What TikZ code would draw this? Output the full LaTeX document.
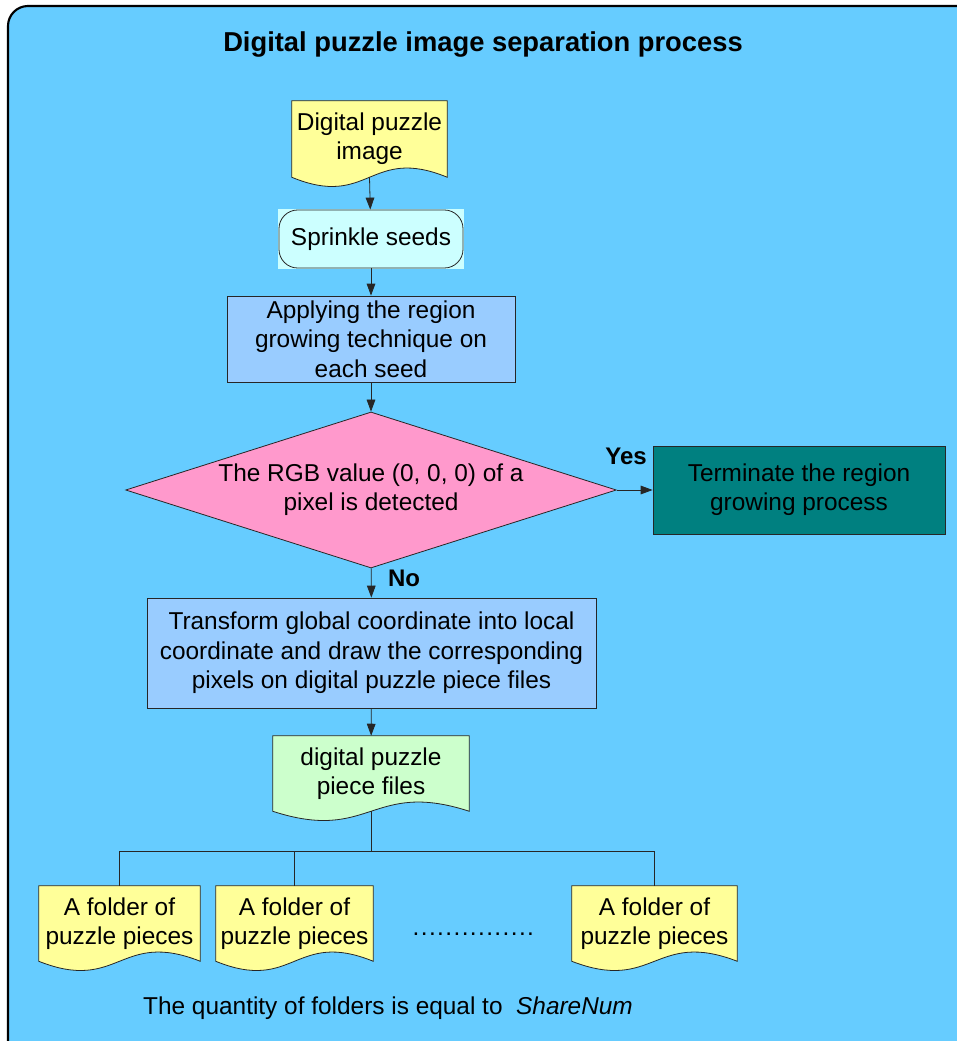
\documentclass[tikz,border=0pt]{standalone}
\usepackage{fontspec}
\setmainfont{Liberation Sans}
\usetikzlibrary{shapes.geometric}
\usetikzlibrary{arrows.meta}
\usetikzlibrary{calc}
\definecolor{panelblue}{HTML}{66CCFF}
\definecolor{docyellow}{HTML}{FFFF99}
\definecolor{seedcyan}{HTML}{CCFFFF}
\definecolor{stepblue}{HTML}{99CCFF}
\definecolor{checkpink}{HTML}{FF99CC}
\definecolor{stopteal}{HTML}{008080}
\definecolor{docgreen}{HTML}{CCFFCC}
\pgfdeclarelayer{panel}
\pgfdeclarelayer{shapes}
\pgfsetlayers{panel,shapes,main}
\tikzset{
every node/.style={ % Sets the font for every text
font=\fontsize{18.3}{22}\selectfont,
align=center},
outline/.style={draw=black!85, line width=0.6pt},
stepbox/.style={ % Plain process boxes
outline, rectangle, inner sep=0pt},
docbox/.style={ % Text area of the document shapes, outline drawn by \wavedoc
rectangle, inner sep=0pt},
every edge/.style={ % Sets the properties for each connector
draw, black!85, line width=0.6pt,
-{Triangle[length=9pt,width=6.5pt]}},
bus/.style={draw, black!85, line width=0.6pt},
lbl/.style={font=\fontsize{18}{20}\selectfont\bfseries}}
% document shape with a wavy bottom edge behind node #1
\newcommand{\wavedoc}[2]{%
\begin{pgfonlayer}{shapes}
\draw[outline, fill=#2] (#1.south west) -- (#1.north west) -- (#1.north east) -- (#1.south east)
  .. controls ($(#1.south)+(0,-32)$) and ($(#1.south)+(0,32)$) .. (#1.south west) -- cycle;
\end{pgfonlayer}}
\newcommand{\dotrow}{\foreach \d in {1,...,15}{.\kern1.05pt}}

\begin{document}
\begin{tikzpicture}[x=0.75pt, y=-0.75pt]
\useasboundingbox (0,0) rectangle (956,1041);
\begin{pgfonlayer}{panel}
\draw[fill=panelblue, line width=1.6pt, rounded corners=15pt] (8,6) rectangle (985,1070);
\end{pgfonlayer}
\node[font=\fontsize{20.5}{24}\selectfont\bfseries] (title) at (483,44) {Digital puzzle image separation process};

\node[docbox, minimum width=116.25pt, minimum height=57pt] (img) at (369.5,139) {Digital puzzle\\image};
\wavedoc{img}{docyellow}
\node[outline, rounded corners=14pt, minimum width=138pt, minimum height=43.5pt, inner sep=0pt] (seeds) at (371,239) {Sprinkle seeds};
\begin{pgfonlayer}{shapes}
\fill[seedcyan] ($(seeds.south west)+(-1,1)$) rectangle ($(seeds.north east)+(1,-1)$);
\end{pgfonlayer}
\node[stepbox, fill=stepblue, minimum width=216pt, minimum height=64.5pt] (grow) at (371,339) {Applying the region\\growing technique on\\each seed};
\node[outline, diamond, fill=checkpink, shape aspect=3.15, inner sep=0pt, minimum width=368pt, minimum height=117pt] (check) at (371,490) {The RGB value (0, 0, 0) of a\\pixel is detected};
\node[stepbox, fill=stopteal, minimum width=219pt, minimum height=66pt] (stop) at (799,490) {Terminate the region\\growing process};
\node[stepbox, fill=stepblue, minimum width=336.75pt, minimum height=82.5pt] (trans) at (371.5,653) {Transform global coordinate into local\\coordinate and draw the corresponding\\pixels on digital puzzle piece files};
\node[docbox, minimum width=147pt, minimum height=56.25pt] (pieces) at (371,773.5) {digital puzzle\\piece files};
\wavedoc{pieces}{docgreen}

\node[docbox, minimum width=120.75pt, minimum height=56.25pt] (f1) at (119.5,923.5) {A folder of\\puzzle pieces};
\wavedoc{f1}{docyellow}
\node[docbox, minimum width=117.75pt, minimum height=56.25pt] (f2) at (294.5,923.5) {A folder of\\puzzle pieces};
\wavedoc{f2}{docyellow}
\node[docbox, minimum width=123.75pt, minimum height=56.25pt] (f3) at (654.5,923.5) {A folder of\\puzzle pieces};
\wavedoc{f3}{docyellow}
\node (dots) at (474,934) {\dotrow};

\node[lbl] (yes) at (626,456) {Yes};
\node[lbl] (no) at (404,578) {No};

\draw (img.south) edge (seeds);
\draw (seeds) edge (grow);
\draw (grow) edge (check);
\draw (check) edge (stop);
\draw (check) edge (trans);
\draw (trans) edge (pieces);

\coordinate (hub) at (371,851);
\draw[bus] (pieces.south) -- (hub);
\draw[bus] (f1.north) |- (hub) -| (f3.north);
\draw[bus] (f2.north) -- (f2.north |- hub);

\node (note) at (388,1008) {The quantity of folders is equal to \ \textit{ShareNum}};
\end{tikzpicture}
\end{document}
